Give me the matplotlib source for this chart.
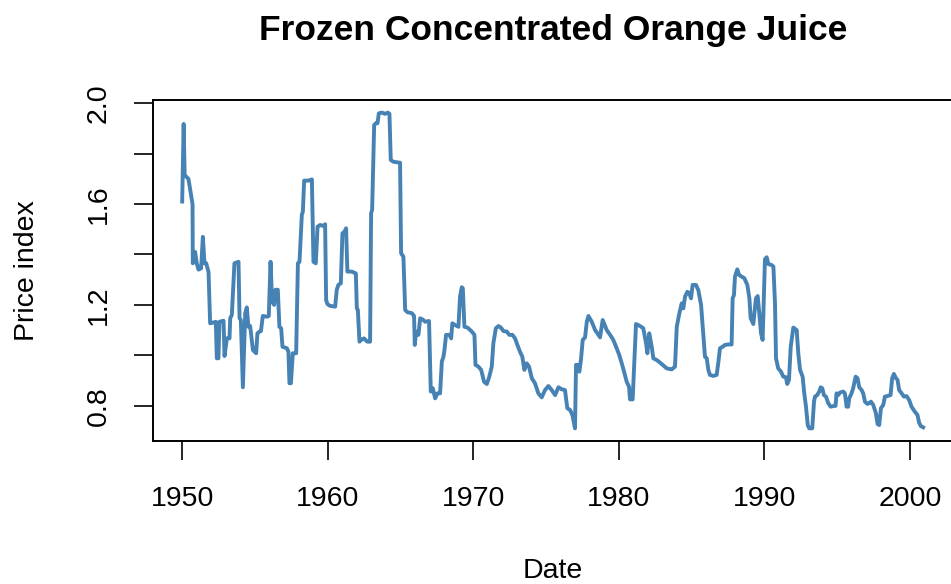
import matplotlib
matplotlib.use("Agg")
import matplotlib.pyplot as plt

plt.rcParams["font.family"] = ["Liberation Sans", "DejaVu Sans"]

# === データ（図から読み取った頂点：年, 価格指数） ===
year = [
    1950.00, 1950.10, 1950.17, 1950.43, 1950.71, 1950.73, 1950.89, 1951.00, 1951.12, 1951.30,
    1951.42, 1951.53, 1951.65, 1951.81, 1951.92, 1952.15, 1952.31, 1952.38, 1952.49, 1952.56,
    1952.84, 1952.91, 1953.07, 1953.25, 1953.30, 1953.41, 1953.59, 1953.87, 1953.94, 1954.03,
    1954.17, 1954.33, 1954.44, 1954.55, 1954.67, 1954.86, 1955.08, 1955.17, 1955.31, 1955.41,
    1955.54, 1955.82, 1955.95, 1956.07, 1956.18, 1956.32, 1956.41, 1956.57, 1956.68, 1956.80,
    1956.89, 1957.19, 1957.30, 1957.37, 1957.47, 1957.60, 1957.83, 1957.95, 1958.06, 1958.22,
    1958.29, 1958.38, 1958.68, 1958.91, 1959.02, 1959.18, 1959.30, 1959.48, 1959.71, 1959.82,
    1959.89, 1959.98, 1960.16, 1960.51, 1960.62, 1960.73, 1960.90, 1961.01, 1961.15, 1961.26,
    1961.35, 1961.65, 1961.93, 1962.00, 1962.07, 1962.18, 1962.29, 1962.50, 1962.64, 1962.73,
    1962.91, 1962.98, 1963.05, 1963.19, 1963.32, 1963.42, 1963.51, 1963.72, 1963.94, 1964.13,
    1964.24, 1964.33, 1964.51, 1964.75, 1964.97, 1965.04, 1965.20, 1965.32, 1965.47, 1965.78,
    1965.93, 1965.98, 1966.07, 1966.23, 1966.35, 1966.57, 1966.69, 1966.96, 1967.08, 1967.22,
    1967.38, 1967.54, 1967.72, 1967.84, 1967.95, 1968.02, 1968.13, 1968.36, 1968.48, 1968.56,
    1968.75, 1968.98, 1969.09, 1969.21, 1969.28, 1969.39, 1969.60, 1969.90, 1970.08, 1970.15,
    1970.35, 1970.54, 1970.74, 1970.93, 1971.09, 1971.27, 1971.38, 1971.55, 1971.73, 1971.89,
    1972.07, 1972.30, 1972.48, 1972.69, 1972.87, 1973.03, 1973.21, 1973.37, 1973.51, 1973.67,
    1973.83, 1974.02, 1974.24, 1974.47, 1974.70, 1974.93, 1975.16, 1975.39, 1975.62, 1975.85,
    1976.08, 1976.30, 1976.46, 1976.65, 1976.81, 1976.99, 1977.06, 1977.17, 1977.29, 1977.40,
    1977.52, 1977.68, 1977.80, 1977.91, 1978.14, 1978.37, 1978.53, 1978.71, 1978.89, 1979.17,
    1979.40, 1979.62, 1979.81, 1980.03, 1980.20, 1980.36, 1980.54, 1980.70, 1980.77, 1980.95,
    1981.18, 1981.46, 1981.68, 1981.87, 1981.96, 1982.09, 1982.26, 1982.37, 1982.60, 1982.83,
    1983.29, 1983.63, 1983.86, 1983.98, 1984.16, 1984.32, 1984.43, 1984.55, 1984.71, 1984.84,
    1984.96, 1985.07, 1985.30, 1985.46, 1985.65, 1985.80, 1985.92, 1986.04, 1986.15, 1986.26,
    1986.49, 1986.72, 1986.83, 1986.95, 1987.14, 1987.29, 1987.52, 1987.75, 1987.82, 1987.91,
    1987.98, 1988.14, 1988.26, 1988.44, 1988.62, 1988.83, 1988.97, 1989.06, 1989.24, 1989.42,
    1989.54, 1989.65, 1989.77, 1989.88, 1990.04, 1990.16, 1990.27, 1990.50, 1990.62, 1990.73,
    1990.80, 1990.95, 1991.14, 1991.30, 1991.48, 1991.57, 1991.69, 1991.81, 1991.99, 1992.22,
    1992.33, 1992.45, 1992.63, 1992.74, 1992.86, 1992.98, 1993.08, 1993.29, 1993.41, 1993.48,
    1993.63, 1993.77, 1993.87, 1993.98, 1994.09, 1994.23, 1994.39, 1994.55, 1994.78, 1994.89,
    1994.96, 1995.07, 1995.19, 1995.42, 1995.53, 1995.65, 1995.76, 1995.83, 1995.99, 1996.10,
    1996.27, 1996.40, 1996.52, 1996.68, 1996.79, 1996.91, 1997.07, 1997.20, 1997.32, 1997.48,
    1997.66, 1997.78, 1997.89, 1998.01, 1998.17, 1998.28, 1998.44, 1998.67, 1998.78, 1998.90,
    1999.04, 1999.15, 1999.26, 1999.43, 1999.59, 1999.77, 1999.95, 2000.11, 2000.34, 2000.52,
    2000.63, 2000.75, 2000.91,
]
price = [
    1.610, 1.918, 1.715, 1.700, 1.600, 1.365, 1.410, 1.365, 1.340, 1.345,
    1.470, 1.365, 1.365, 1.330, 1.127, 1.130, 1.133, 0.988, 0.988, 1.133,
    1.137, 0.997, 1.067, 1.067, 1.147, 1.160, 1.365, 1.371, 1.147, 1.140,
    0.873, 1.167, 1.190, 1.113, 1.116, 1.021, 1.008, 1.087, 1.094, 1.096,
    1.156, 1.153, 1.156, 1.371, 1.213, 1.200, 1.260, 1.260, 1.113, 1.107,
    1.034, 1.028, 1.014, 0.889, 0.889, 1.008, 1.008, 1.365, 1.371, 1.557,
    1.570, 1.693, 1.693, 1.698, 1.371, 1.365, 1.510, 1.517, 1.513, 1.520,
    1.219, 1.203, 1.196, 1.193, 1.260, 1.279, 1.286, 1.484, 1.490, 1.504,
    1.332, 1.332, 1.325, 1.186, 1.180, 1.054, 1.061, 1.067, 1.058, 1.054,
    1.054, 1.563, 1.577, 1.914, 1.921, 1.921, 1.960, 1.963, 1.958, 1.963,
    1.958, 1.775, 1.768, 1.766, 1.764, 1.405, 1.391, 1.180, 1.171, 1.167,
    1.156, 1.041, 1.094, 1.081, 1.147, 1.140, 1.133, 1.136, 0.856, 0.869,
    0.829, 0.849, 0.849, 0.975, 0.994, 1.021, 1.081, 1.081, 1.067, 1.127,
    1.120, 1.113, 1.233, 1.270, 1.266, 1.113, 1.110, 1.094, 1.081, 0.962,
    0.955, 0.942, 0.895, 0.886, 0.913, 0.955, 1.048, 1.107, 1.116, 1.110,
    1.096, 1.094, 1.081, 1.081, 1.067, 1.041, 1.014, 0.994, 0.942, 0.968,
    0.955, 0.909, 0.889, 0.849, 0.833, 0.862, 0.878, 0.862, 0.842, 0.873,
    0.865, 0.862, 0.790, 0.783, 0.763, 0.710, 0.962, 0.962, 0.935, 0.984,
    1.061, 1.071, 1.133, 1.156, 1.133, 1.100, 1.087, 1.071, 1.140, 1.100,
    1.081, 1.061, 1.034, 1.001, 0.968, 0.935, 0.895, 0.875, 0.825, 0.825,
    1.124, 1.116, 1.107, 1.048, 1.008, 1.087, 1.034, 0.988, 0.981, 0.971,
    0.948, 0.944, 0.955, 1.113, 1.167, 1.206, 1.186, 1.233, 1.252, 1.246,
    1.226, 1.279, 1.279, 1.259, 1.200, 1.087, 0.994, 0.988, 0.942, 0.922,
    0.918, 0.922, 0.968, 1.028, 1.034, 1.041, 1.043, 1.043, 1.226, 1.239,
    1.312, 1.341, 1.319, 1.312, 1.306, 1.279, 1.226, 1.147, 1.124, 1.226,
    1.235, 1.167, 1.087, 1.061, 1.381, 1.389, 1.362, 1.358, 1.352, 1.206,
    0.988, 0.948, 0.935, 0.915, 0.913, 0.886, 0.902, 1.034, 1.110, 1.100,
    1.008, 0.942, 0.915, 0.849, 0.796, 0.723, 0.710, 0.710, 0.816, 0.836,
    0.842, 0.856, 0.873, 0.869, 0.842, 0.836, 0.810, 0.796, 0.799, 0.799,
    0.849, 0.842, 0.852, 0.856, 0.849, 0.796, 0.796, 0.829, 0.849, 0.869,
    0.915, 0.909, 0.873, 0.862, 0.849, 0.816, 0.807, 0.810, 0.816, 0.803,
    0.770, 0.727, 0.723, 0.790, 0.803, 0.836, 0.838, 0.842, 0.909, 0.926,
    0.909, 0.902, 0.862, 0.849, 0.836, 0.838, 0.822, 0.796, 0.776, 0.763,
    0.733, 0.719, 0.714,
]

x_ticks = [1950, 1960, 1970, 1980, 1990, 2000]
y_ticks = [0.8, 1.0, 1.2, 1.4, 1.6, 1.8, 2.0]
y_labels = ["0.8", "", "1.2", "", "1.6", "", "2.0"]

W, H = 951, 584
fig = plt.figure(figsize=(W / 100, H / 100), dpi=100)
ax = fig.add_axes([152.5 / W, (H - 440.7) / H, (953 - 152.5) / W, (440.7 - 100) / H])

ax.plot(year, price, color="steelblue", linewidth=2.8, solid_joinstyle="round")

ax.set_xlim(1947.96, 2002.96)
ax.set_ylim(0.661, 2.013)
ax.set_xticks(x_ticks)
ax.set_xticklabels([str(t) for t in x_ticks])
ax.set_yticks(y_ticks)
ax.set_yticklabels(y_labels, rotation=90, va="center")
ax.tick_params(axis="both", direction="out", length=13.5, width=1.2, labelsize=20.5, color="black")
ax.tick_params(axis="x", pad=19)
ax.tick_params(axis="y", pad=16)
for sp in ax.spines.values():
    sp.set_linewidth(1.4)

ax.set_title("Frozen Concentrated Orange Juice", fontsize=25.5, fontweight="bold", pad=43)
ax.set_xlabel("Date", fontsize=20.5, labelpad=33)
ax.set_ylabel("Price index", fontsize=20.5, labelpad=33)

fig.savefig("out.png", dpi=100)
